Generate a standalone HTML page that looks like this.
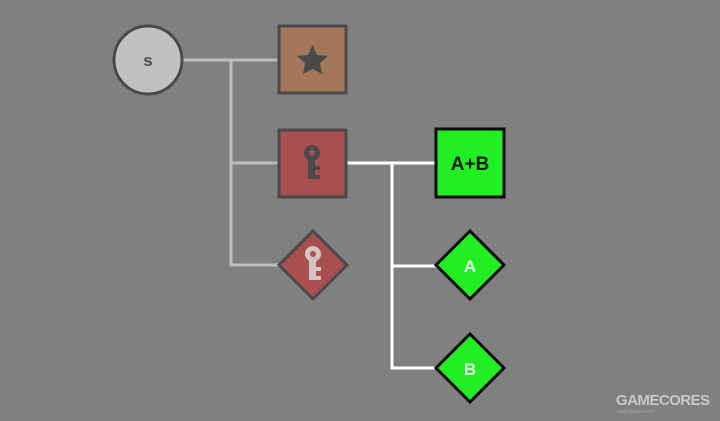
<!DOCTYPE html>
<html><head><style>body{margin:0;background:#808080;}</style></head><body>
<svg width="720" height="421" viewBox="0 0 720 421" xmlns="http://www.w3.org/2000/svg" style="display:block">
<rect width="720" height="421" fill="#808080"/>
<g stroke="#bdbdbd" stroke-width="3" fill="none">
<path d="M182 60H278M231 60V265H280M231 163H278"/>
</g>
<g stroke="#fff" stroke-width="3" fill="none">
<path d="M347 163H436M392 163V368H438M392 266H438"/>
</g>
<circle cx="148" cy="60" r="34" fill="#c0c0c0" stroke="#4a4a4a" stroke-width="3"/>
<text x="148" y="66" font-family="Liberation Sans, sans-serif" font-weight="bold" font-size="17" fill="#4a4a4a" text-anchor="middle">s</text>
<rect x="279" y="26" width="67" height="67" fill="#a5775a" stroke="#4a4a4a" stroke-width="3"/>
<polygon points="312.5,45 317,55 328,56 320,63 322,74 312.5,69 303,74 305,63 297,56 308,55" fill="#4a4a4a"/>
<rect x="279" y="130" width="67" height="67" fill="#a85050" stroke="#4a4a4a" stroke-width="3"/>
<g fill="#4a4a4a"><circle cx="312" cy="153" r="8"/><rect x="308" y="158" width="7" height="21"/><rect x="312" y="166" width="8" height="4"/><rect x="312" y="175" width="8" height="4"/></g>
<circle cx="312" cy="153" r="3" fill="#a85050"/>
<polygon points="313,231 347,265 313,299 279,265" fill="#a85050" stroke="#4a4a4a" stroke-width="3"/>
<g fill="#d4c4c4"><circle cx="313" cy="254" r="8"/><rect x="309" y="259" width="7" height="21"/><rect x="313" y="267" width="8" height="4"/><rect x="313" y="276" width="8" height="4"/></g>
<circle cx="313" cy="254" r="3" fill="#a85050"/>
<rect x="436" y="129" width="68" height="68" fill="#22ee22" stroke="#0a0a0a" stroke-width="3"/>
<text x="470" y="170" font-family="Liberation Sans, sans-serif" font-weight="bold" font-size="19" fill="#0a1a0a" text-anchor="middle">A+B</text>
<polygon points="470,231 504,265 470,299 436,265" fill="#22ee22" stroke="#0a0a0a" stroke-width="3"/>
<text x="470" y="272" font-family="Liberation Sans, sans-serif" font-weight="bold" font-size="17" fill="#e8f8e8" text-anchor="middle">A</text>
<polygon points="470,334 504,368 470,402 436,368" fill="#22ee22" stroke="#0a0a0a" stroke-width="3"/>
<text x="470" y="375" font-family="Liberation Sans, sans-serif" font-weight="bold" font-size="17" fill="#e8f8e8" text-anchor="middle">B</text>
<text x="616" y="405" font-family="Liberation Sans, sans-serif" font-weight="bold" font-size="15" fill="#c8c8c8" textLength="94">GAMECORES</text>
<text x="617" y="413" font-family="Liberation Sans, sans-serif" font-size="5" fill="#aaa">www.gcores.com</text>
</svg>
</body></html>
